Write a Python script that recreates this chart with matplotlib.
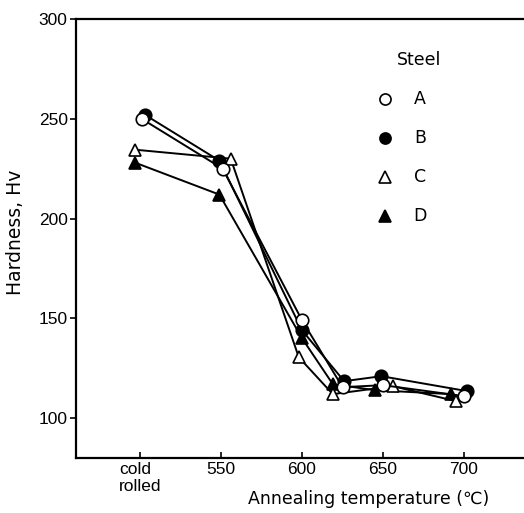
import matplotlib
matplotlib.use("Agg")
import matplotlib.pyplot as plt

plt.rcParams['font.family'] = ['Liberation Sans', 'DejaVu Sans']

# (x slightly jittered per steel, as in the original)
steels = ["A", "B", "C", "D"]
x_A = [501, 551, 600, 625, 650, 700]
y_A = [250, 225, 149, 115.5, 116.5, 111]
x_B = [503, 549, 600, 626, 649, 702]
y_B = [252, 229, 144, 118.5, 121, 113.5]
x_C = [497, 556, 598, 619, 656, 695]
y_C = [234.5, 230, 130.5, 112, 116, 108.5]
x_D = [497, 549, 600, 619, 645, 692]
y_D = [228, 212, 140, 117, 114, 112]

xticks = [500, 550, 600, 650, 700]
xticklabels = ["cold\nrolled", "550", "600", "650", "700"]
yticks = [100, 150, 200, 250, 300]

styles = {"A": dict(marker="o", mfc="white"),
          "B": dict(marker="o", mfc="black"),
          "C": dict(marker="^", mfc="white"),
          "D": dict(marker="^", mfc="black")}

fig = plt.figure(figsize=(5.24, 5.13), dpi=100)
ax = fig.add_axes([76/524, 1 - 458/513, 448/524, 439/513])

data = {"A": (x_A, y_A), "B": (x_B, y_B), "C": (x_C, y_C), "D": (x_D, y_D)}
for s in ["D", "C", "B", "A"]:
    xs, ys = data[s]
    ax.plot(xs, ys, color="black", lw=1.4, mec="black", mew=1.2, ms=9,
            **styles[s])

ax.set_xlim(460.5, 737)
ax.set_ylim(80, 300)
ax.set_xticks(xticks)
ax.set_xticklabels(xticklabels, fontsize=12.5, linespacing=1.15)
ax.get_xticklabels()[0].set_multialignment("left")
ax.set_yticks(yticks)
ax.tick_params(axis="y", direction="out", length=4, width=1.2, labelsize=12.5, pad=2)
ax.tick_params(axis="x", direction="in", length=4, width=1.2, pad=3)
ax.spines["right"].set_visible(False)
for sp in ["left", "bottom", "top"]:
    ax.spines[sp].set_linewidth(1.6)

lab = dict(fontsize=12.5, family="DejaVu Sans")
ax.set_ylabel("Hardness, Hv", fontsize=13.5, family="DejaVu Sans")
ax.yaxis.set_label_coords(-0.114, 0.513)
ax.set_xlabel("Annealing temperature (℃)", **lab)
ax.xaxis.set_label_coords(0.654, -0.072)

# legend drawn by hand
ax.text(0.766, 0.907, "Steel", transform=ax.transAxes, ha="center", va="center", **lab)
rows = [0.818, 0.729, 0.640, 0.551]
for s, yy in zip(steels, rows):
    ax.plot([0.690], [yy], transform=ax.transAxes, ls="none", mec="black",
            mew=1.2, ms=8, clip_on=False, **styles[s])
    ax.text(0.768, yy, s, transform=ax.transAxes, ha="center", va="center", **lab)

fig.savefig("out.png", dpi=100)
